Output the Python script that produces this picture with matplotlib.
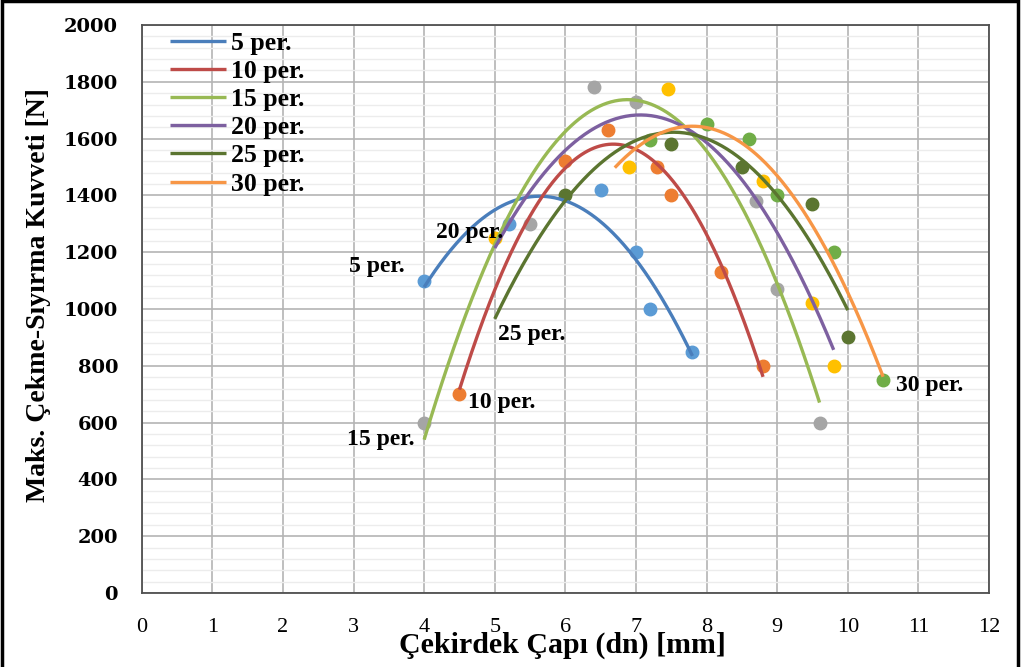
import numpy as np
import matplotlib
matplotlib.use("Agg")
import matplotlib.pyplot as plt
from matplotlib.patches import Rectangle
from matplotlib.ticker import MultipleLocator

# Measured pull-out force per core diameter, one group per number of turns
series_names = ["5 per.", "10 per.", "15 per.", "20 per.", "25 per.", "30 per."]

x_5 = [4.0, 5.2, 6.5, 7.0, 7.2, 7.8]
y_5 = [1100, 1300, 1420, 1200, 1000, 850]

x_10 = [4.5, 6.0, 6.6, 7.3, 7.5, 8.2, 8.8]
y_10 = [700, 1520, 1630, 1500, 1400, 1130, 800]

x_15 = [4.0, 5.5, 6.4, 7.0, 8.7, 9.0, 9.6]
y_15 = [600, 1300, 1780, 1730, 1380, 1070, 600]

x_20 = [5.0, 6.9, 7.45, 8.8, 9.5, 9.8]
y_20 = [1250, 1500, 1775, 1450, 1020, 800]

x_25 = [6.0, 7.5, 8.5, 9.5, 10.0]
y_25 = [1400, 1580, 1500, 1370, 900]

x_30 = [7.2, 8.0, 8.6, 9.0, 9.8, 10.5]
y_30 = [1595, 1650, 1600, 1400, 1200, 750]

# x-range covered by each second-order trend line
trend_range = [(4.0, 7.8), (4.5, 8.8), (4.0, 9.6), (5.0, 9.8), (5.0, 10.0), (6.7, 10.5)]

line_colors = ["#4A7EBB", "#BE4B48", "#98B954", "#7D60A0", "#5B7530", "#F79646"]
marker_colors = ["#5B9BD5", "#ED7D31", "#A5A5A5", "#FFC000", "#5B7530", "#70AD47"]

xs = [x_5, x_10, x_15, x_20, x_25, x_30]
ys = [y_5, y_10, y_15, y_20, y_25, y_30]

fig = plt.figure(figsize=(10.27, 6.67), dpi=100)
ax = fig.add_axes([0.138, 0.111, 0.825, 0.8515])

serif = "Liberation Serif"

curves = []
for name, xv, yv, rng, lc, mc in zip(series_names, xs, ys, trend_range, line_colors, marker_colors):
    ax.plot(xv, yv, linestyle="none", marker="o", markersize=9,
            markerfacecolor=mc, markeredgecolor=mc, zorder=3)
    coef = np.polyfit(xv, yv, 2)
    xx = np.linspace(rng[0], rng[1], 200)
    yy = np.polyval(coef, xx)
    ax.plot(xx, yy, color=lc, linewidth=2.4, solid_capstyle="butt", zorder=4, label=name)
    curves.append((xx, yy))

ax.set_xlim(0, 12)
ax.set_ylim(0, 2000)
ax.xaxis.set_major_locator(MultipleLocator(1))
ax.yaxis.set_major_locator(MultipleLocator(200))
ax.yaxis.set_minor_locator(MultipleLocator(40))

ax.grid(which="major", axis="both", color="#B4B4B4", linewidth=1.2, zorder=0)
ax.grid(which="minor", axis="y", color="#ECECEC", linewidth=1.0, zorder=0)
ax.set_axisbelow(True)

for sp in ax.spines.values():
    sp.set_color("#505050")
    sp.set_linewidth(1.3)

ax.tick_params(axis="both", which="both", length=0)
ax.tick_params(axis="x", pad=18)
ax.tick_params(axis="y", pad=17)
for lbl in ax.get_xticklabels():
    lbl.set_fontfamily(serif)
    lbl.set_fontsize(16)
for lbl in ax.get_yticklabels():
    lbl.set_fontfamily("DejaVu Serif")
    lbl.set_fontsize(14)
    lbl.set_fontweight("bold")

ax.set_xlabel("Çekirdek Çapı (dn) [mm]", fontfamily=serif, fontsize=21.5, fontweight="bold")
ax.set_ylabel("Maks. Çekme-Sıyırma Kuvveti [N]", fontfamily=serif, fontsize=20, fontweight="bold")
ax.xaxis.set_label_coords(0.497, -0.0685)
ax.yaxis.set_label_coords(-0.107, 0.525)

ax.legend(loc="upper left", bbox_to_anchor=(0.033, 0.988), frameon=False,
          borderpad=0, borderaxespad=0, handlelength=2.2, handletextpad=0.2,
          labelspacing=0.2, prop={"family": serif, "weight": "bold", "size": 18.5})

# Series labels placed beside the first or last point of each group
lab_kw = dict(textcoords="offset points", fontfamily=serif, fontweight="bold",
              fontsize=17, va="center", zorder=6)
ax.annotate(series_names[0], (x_5[0], y_5[0]), xytext=(-14, 10), ha="right", **lab_kw)
ax.annotate(series_names[1], (x_10[0], y_10[0]), xytext=(6, -6), ha="left", **lab_kw)
ax.annotate(series_names[2], (x_15[0], y_15[0]), xytext=(-7, -12), ha="right", **lab_kw)
ax.annotate(series_names[3], (x_20[0], y_20[0]), xytext=(6, 4), ha="right", **lab_kw)
ax.annotate(series_names[4], (curves[4][0][0], curves[4][1][0]), xytext=(2, -11), ha="left", **lab_kw)
ax.annotate(series_names[5], (x_30[-1], y_30[-1]), xytext=(9, -4), ha="left", **lab_kw)

# Outer frame around the whole figure
fig.patches.append(Rectangle((0.0015, -0.05), 0.990, 1.048, transform=fig.transFigure,
                             fill=False, edgecolor="black", linewidth=2.5))

fig.savefig("out.png", dpi=100)
